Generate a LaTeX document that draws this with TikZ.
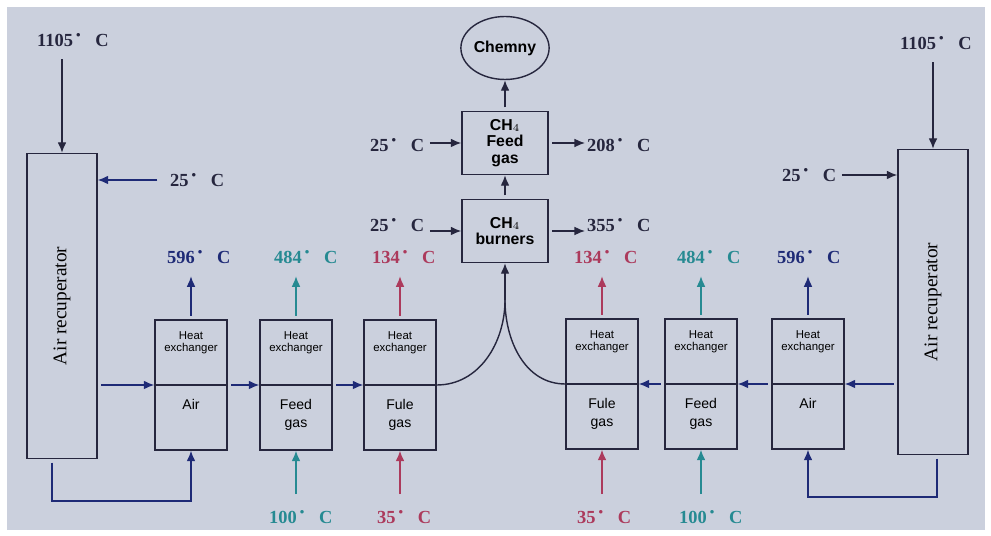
\documentclass[tikz,border=0pt]{standalone}
\usepackage{fontspec}
\setmainfont{Liberation Serif}
\setsansfont{Liberation Sans}
\usetikzlibrary{arrows,arrows.meta,positioning,shapes,calc}
\definecolor{photo}{RGB}{203,208,221}
\definecolor{ink}{RGB}{38,38,62}
\definecolor{airblue}{RGB}{30,42,118}
\definecolor{feedteal}{RGB}{38,138,146}
\definecolor{fuelred}{RGB}{172,58,92}
\newcommand{\tempC}[1]{#1\,\textsuperscript{\textbullet}\hspace{0.75em}C}
\tikzset{
    %Define standard arrow tip
    >={Latex[length=6pt,width=5pt]},
    %Define style for boxes
    recup/.style={
           rectangle,
           draw=ink, thick,
           minimum width=1.4cm,
           minimum height=6.1cm},
    hxbox/.style={
           rectangle,
           draw=ink, thick,
           minimum width=1.44cm,
           minimum height=2.6cm},
    unit/.style={
           rectangle,
           draw=ink, thick,
           minimum width=1.72cm,
           minimum height=1.26cm,
           inner sep=1pt,
           font=\sffamily\bfseries\fontsize{9}{9.5}\selectfont,
           align=center},
    hxhead/.style={
           inner sep=0pt,
           font=\sffamily\fontsize{6.5}{7}\selectfont,
           align=center},
    hxbody/.style={
           inner sep=0pt,
           font=\sffamily\fontsize{8}{10}\selectfont,
           align=center},
    temp/.style={
           anchor=west,
           inner sep=1pt,
           text=ink,
           font=\bfseries\fontsize{10.5}{12}\selectfont},
    % Define arrow style
    arr/.style={
           ->,
           thick,
           draw=ink,
           shorten <=2pt},
    bluearr/.style={
           ->,
           thick,
           draw=airblue,
           shorten <=2pt},
    tealarr/.style={
           ->,
           thick,
           draw=feedteal,
           shorten <=2pt},
    redarr/.style={
           ->,
           thick,
           draw=fuelred,
           shorten <=2pt}
}
\begin{document}
\begin{tikzpicture}[x=0.02cm,y=-0.02cm]
  \useasboundingbox (0,0) rectangle (991,536);
  \fill[white] (0,0) rectangle (991,536);
  \fill[photo] (7,7) rectangle (985,530);

  % recuperators
  \node[recup] (recl) at (62,306) {};
  \node[rotate=90, font=\fontsize{11}{12}\selectfont] at (recl.center) {Air recuperator};
  \node[recup] (recr) at (933,302) {};
  \node[rotate=90, font=\fontsize{11}{12}\selectfont] at (recr.center) {Air recuperator};

  % heat exchangers, left
  \node[hxbox] (hxa) at (191,385) {};
  \node[hxbox] (hxb) at (296,385) {};
  \node[hxbox] (hxc) at (400,385) {};
  % heat exchangers, right
  \node[hxbox] (hxd) at (602,384) {};
  \node[hxbox] (hxe) at (701,384) {};
  \node[hxbox] (hxf) at (808,384) {};

  \foreach \h in {hxa,hxb,hxc,hxd,hxe,hxf}
    \draw[ink, thick] (\h.west) -- (\h.east);

  \node[hxhead, below=0.24cm of hxa.north] {Heat\\exchanger};
  \node[hxhead, below=0.24cm of hxb.north] {Heat\\exchanger};
  \node[hxhead, below=0.24cm of hxc.north] {Heat\\exchanger};
  \node[hxhead, below=0.24cm of hxd.north] {Heat\\exchanger};
  \node[hxhead, below=0.24cm of hxe.north] {Heat\\exchanger};
  \node[hxhead, below=0.24cm of hxf.north] {Heat\\exchanger};
  \node[hxbody, below=0.28cm of hxa.center] {Air};
  \node[hxbody, below=0.28cm of hxb.center] {Feed\\gas};
  \node[hxbody, below=0.28cm of hxc.center] {Fule\\gas};
  \node[hxbody, below=0.28cm of hxd.center] {Fule\\gas};
  \node[hxbody, below=0.28cm of hxe.center] {Feed\\gas};
  \node[hxbody, below=0.28cm of hxf.center] {Air};

  % CH4 units and chimney
  \node[unit] (burn) at (505,231) {CH$_4$\\burners};
  \node[unit] (feed) at (505,143) {CH$_4$\\Feed\\gas};
  \node[ellipse, draw=ink, thick, minimum width=1.54cm, minimum height=1.26cm,
        inner sep=0pt, font=\sffamily\bfseries\fontsize{9}{10}\selectfont] (chem) at (505,48) {Chemny};

  % temperatures
  \node[temp] (tl1105) at (35,40) {\tempC{1105}};
  \node[temp] (tr1105) at (898,43) {\tempC{1105}};
  \node[temp] (tl25) at (168,180) {\tempC{25}};
  \node[temp] (tr25) at (780,175) {\tempC{25}};
  \node[temp] (tf25) at (368,145) {\tempC{25}};
  \node[temp] (tb25) at (368,225) {\tempC{25}};
  \node[temp] (t208) at (585,145) {\tempC{208}};
  \node[temp] (t355) at (585,225) {\tempC{355}};
  \node[temp, text=airblue] (tla) at (165,257) {\tempC{596}};
  \node[temp, text=feedteal] (tlb) at (272,257) {\tempC{484}};
  \node[temp, text=fuelred] (tlc) at (370,257) {\tempC{134}};
  \node[temp, text=fuelred] (trd) at (572,257) {\tempC{134}};
  \node[temp, text=feedteal] (tre) at (675,257) {\tempC{484}};
  \node[temp, text=airblue] (trf) at (775,257) {\tempC{596}};
  \node[temp, text=feedteal] (bl100) at (267,517) {\tempC{100}};
  \node[temp, text=fuelred] (bl35) at (375,517) {\tempC{35}};
  \node[temp, text=fuelred] (br35) at (575,517) {\tempC{35}};
  \node[temp, text=feedteal] (br100) at (677,517) {\tempC{100}};

  % recuperator feeds
  \draw[arr, shorten <=6pt] (recl.north |- tl1105.south) -- (recl.north);
  \draw[arr, shorten <=6pt] (recr.north |- tr1105.south) -- (recr.north);
  \draw[bluearr, shorten <=6pt] (tl25.west) -- (recl.east |- tl25);
  \draw[arr] (tr25.east) -- (recr.west |- tr25);

  % air path
  \draw[bluearr] (recl.east |- hxa.west) -- (hxa.west);
  \draw[bluearr] (hxa.east) -- (hxb.west);
  \draw[bluearr] (hxb.east) -- (hxc.west);
  \draw[bluearr] (recr.west |- hxf.east) -- (hxf.east);
  \draw[bluearr] (hxf.west) -- (hxe.east);
  \draw[bluearr] (hxe.west) -- (hxd.east);

  \coordinate (lowl) at (52,501);
  \coordinate (lowr) at (937,497);
  \draw[bluearr] (recl.south -| lowl) |- (hxa.south |- lowl) -- (hxa.south);
  \draw[bluearr] (recr.south -| lowr) |- (hxf.south |- lowr) -- (hxf.south);

  % hot gas merging into the burners
  \coordinate (merge) at (505,300);
  \draw[ink, thick] (hxc.east) to[out=0, in=-90] (merge);
  \draw[ink, thick] (hxd.west) to[out=180, in=-90] (merge);
  \draw[arr, shorten <=0pt] (merge) -- (burn.south);

  % outlets above the heat exchangers
  \draw[bluearr, shorten >=6pt] (hxa.north) -- (hxa.north |- tla.south);
  \draw[tealarr, shorten >=6pt] (hxb.north) -- (hxb.north |- tlb.south);
  \draw[redarr, shorten >=6pt] (hxc.north) -- (hxc.north |- tlc.south);
  \draw[redarr, shorten >=6pt] (hxd.north) -- (hxd.north |- trd.south);
  \draw[tealarr, shorten >=6pt] (hxe.north) -- (hxe.north |- tre.south);
  \draw[bluearr, shorten >=6pt] (hxf.north) -- (hxf.north |- trf.south);

  % inlets below the heat exchangers
  \draw[tealarr, shorten <=8pt] (hxb.south |- bl100.north) -- (hxb.south);
  \draw[redarr, shorten <=8pt] (hxc.south |- bl35.north) -- (hxc.south);
  \draw[redarr, shorten <=8pt] (hxd.south |- br35.north) -- (hxd.south);
  \draw[tealarr, shorten <=8pt] (hxe.south |- br100.north) -- (hxe.south);

  % CH4 line
  \draw[arr] (tf25.east |- feed.west) -- (feed.west);
  \draw[arr] (tb25.east |- burn.west) -- (burn.west);
  \draw[arr] (feed.east) -- (t208.west |- feed.east);
  \draw[arr] (burn.east) -- (t355.west |- burn.east);
  \draw[arr] (burn.north) -- (feed.south);
  \draw[arr] (feed.north) -- (chem.south);
\end{tikzpicture}
\end{document}
